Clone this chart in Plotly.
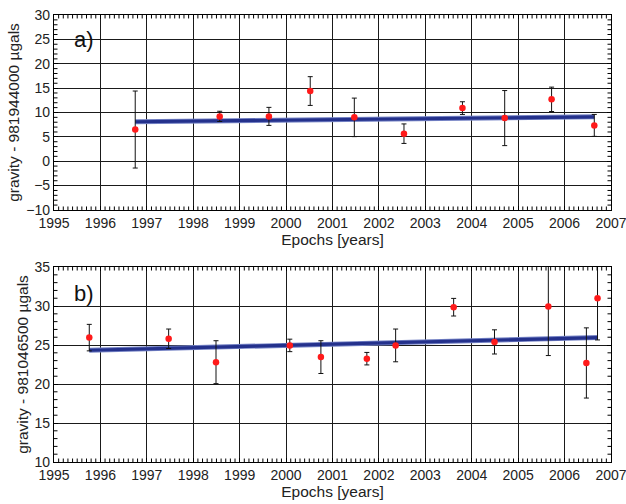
import plotly.graph_objects as go
from plotly.subplots import make_subplots
import numpy as np

# Panel a)
a_years = [1996.75, 1998.57, 1999.63, 2000.52, 2001.47, 2002.54, 2003.80, 2004.71, 2005.72, 2006.64]
a_vals = [6.5, 9.2, 9.2, 14.4, 9.0, 5.65, 10.9, 8.85, 12.7, 7.35]
a_errs = [7.9, 1.05, 1.85, 2.95, 3.95, 2.0, 1.3, 5.65, 2.5, 2.25]
a_fit_x = [1996.75, 2006.64]
a_fit_y = [8.1, 9.1]

# Panel b)
b_years = [1995.76, 1997.47, 1998.49, 2000.08, 2000.75, 2001.74, 2002.36, 2003.61, 2004.49, 2005.65, 2006.47, 2006.71]
b_vals = [25.95, 25.8, 22.8, 24.95, 23.45, 23.25, 24.95, 29.85, 25.4, 29.95, 22.7, 31.0]
b_errs = [1.7, 1.25, 2.75, 0.8, 2.1, 0.8, 2.1, 1.13, 1.55, 6.3, 4.5, 5.35]
b_fit_x = [1995.76, 2006.71]
b_fit_y = [24.33, 25.96]

x_range = [1995, 2007]
a_range = [-10, 30]
b_range = [10, 35]

FONT = "Liberation Sans, Arial, sans-serif"
fig = make_subplots(rows=2, cols=1, vertical_spacing=0.1277)

def add_panel(row, xs, ys, es, fx, fy):
    fig.add_trace(go.Scatter(x=fx, y=fy, mode="lines",
                             line=dict(color="#7381c4", width=5), hoverinfo="skip"), row=row, col=1)
    fig.add_trace(go.Scatter(x=fx, y=fy, mode="lines",
                             line=dict(color="#24318c", width=3.2)), row=row, col=1)
    fig.add_trace(go.Scatter(x=xs, y=ys, mode="markers",
                             marker=dict(color="#ff1a1a", size=6.5),
                             error_y=dict(type="data", array=es, visible=True,
                                          color="#111111", thickness=1, width=2.5)),
                  row=row, col=1)

add_panel(1, a_years, a_vals, a_errs, a_fit_x, a_fit_y)
add_panel(2, b_years, b_vals, b_errs, b_fit_x, b_fit_y)

axis_common = dict(showline=True, linecolor="black", linewidth=1.2, mirror="allticks",
                   showgrid=True, gridcolor="#1a1a1a", gridwidth=1.1,
                   ticks="inside", ticklen=4, tickcolor="black", zeroline=False,
                   tickmode="linear", ticklabeloverflow="allow", automargin=False,
                   tickfont=dict(family=FONT, size=14, color="#222"))

title_font = dict(family=FONT, size=15.5, color="#222")

for r in (1, 2):
    fig.update_xaxes(range=[x_range[0] - 0.0001, x_range[1] + 0.0001], tick0=1995, dtick=1,
                     title=dict(text="Epochs [years]", font=title_font, standoff=1),
                     row=r, col=1, **axis_common)

fig.update_yaxes(range=a_range, tick0=-10, dtick=5,
                 title=dict(text="gravity - 981944000 µgals", font=title_font, standoff=2),
                 row=1, col=1, **axis_common)
fig.update_yaxes(range=b_range, tick0=10, dtick=5,
                 title=dict(text="gravity - 981046500 µgals", font=title_font, standoff=2),
                 row=2, col=1, **axis_common)

# minor ticks (inside, on all four sides) drawn as shapes
tick_len_x = 3.5 / 196
tick_len_y = 3.5 / 557
minor_x = [v for v in np.round(np.arange(x_range[0], x_range[1] + 1e-9, 0.1), 1) if abs(v - round(v)) > 1e-6]
for r, (xr, yr), yrange in [(1, ("x", "y"), a_range), (2, ("x2", "y2"), b_range)]:
    for v in minor_x:
        fig.add_shape(type="line", xref=xr, yref=yr + " domain", x0=v, x1=v, y0=0, y1=tick_len_x,
                      line=dict(color="black", width=1), layer="above")
        fig.add_shape(type="line", xref=xr, yref=yr + " domain", x0=v, x1=v, y0=1, y1=1 - tick_len_x,
                      line=dict(color="black", width=1), layer="above")
    for v in range(yrange[0], yrange[1] + 1):
        if v % 5 == 0:
            continue
        fig.add_shape(type="line", xref=xr + " domain", yref=yr, x0=0, x1=tick_len_y, y0=v, y1=v,
                      line=dict(color="black", width=1), layer="above")
        fig.add_shape(type="line", xref=xr + " domain", yref=yr, x0=1, x1=1 - tick_len_y, y0=v, y1=v,
                      line=dict(color="black", width=1), layer="above")

fig.add_annotation(x=1995.38, y=25, xref="x", yref="y", text="a)", showarrow=False,
                   xanchor="left", yanchor="middle", font=dict(family=FONT, size=22, color="#111"))
fig.add_annotation(x=1995.38, y=31.6, xref="x2", yref="y2", text="b)", showarrow=False,
                   xanchor="left", yanchor="middle", font=dict(family=FONT, size=22, color="#111"))

fig.update_layout(width=626, height=504, margin=dict(l=54, r=15, t=15, b=42, autoexpand=False),
                  paper_bgcolor="white", plot_bgcolor="white", showlegend=False)
fig.write_html("out.html")
